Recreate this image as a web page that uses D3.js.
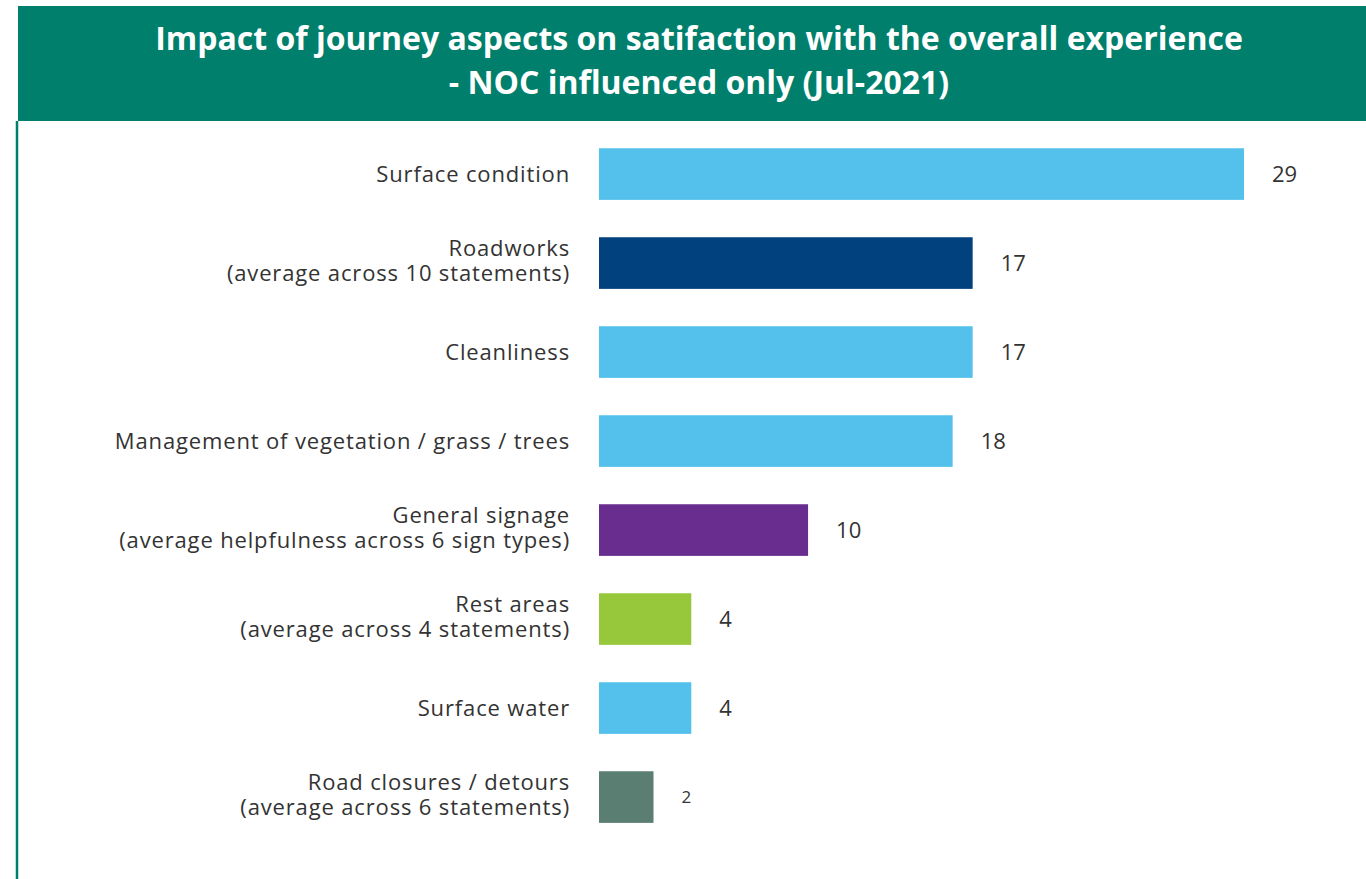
<!DOCTYPE html>
<html>
<head>
<meta charset="utf-8">
<script src="https://cdn.jsdelivr.net/npm/d3@7"></script>
<style>
  body { margin: 0; background: #fff; }
  .cat { font-family: "Open Sans", sans-serif; font-size: 22px; letter-spacing: 0.85px; fill: #333; }
  .val { font-family: "Open Sans", sans-serif; font-size: 22px; fill: #333; }
  .title { font-family: "Open Sans", sans-serif; font-weight: bold; font-size: 32px; fill: #fff; }
</style>
</head>
<body>
<script>
// Data
const categories = [
  ["Surface condition"],
  ["Roadworks", "(average across 10 statements)"],
  ["Cleanliness"],
  ["Management of vegetation / grass / trees"],
  ["General signage", "(average helpfulness across 6 sign types)"],
  ["Rest areas", "(average across 4 statements)"],
  ["Surface water"],
  ["Road closures / detours", "(average across 6 statements)"]
];
// bar lengths as drawn (not quite proportional to the printed labels)
const barValues = [29, 16.8, 16.8, 15.9, 9.4, 4.15, 4.15, 2.45];
const valueLabels = ["29", "17", "17", "18", "10", "4", "4", "2"];
const barColors = ["#54c1ec", "#01417d", "#54c1ec", "#54c1ec", "#692c8f", "#97c83c", "#54c1ec", "#5a7e72"];
const titleLines = [
  "Impact of journey aspects on satifaction with the overall experience",
  "- NOC influenced only (Jul-2021)"
];

const W = 1366, H = 879;
const teal = "#00806c";

const svg = d3.select(document.body).append("svg")
  .attr("width", W)
  .attr("height", H);

// header band + left rule
svg.append("rect")
  .attr("x", 18).attr("y", 6)
  .attr("width", W - 18).attr("height", 115)
  .attr("fill", teal);
svg.append("line")
  .attr("x1", 17).attr("x2", 17)
  .attr("y1", 121).attr("y2", H)
  .attr("stroke", teal).attr("stroke-width", 2.5);

const title = svg.append("text")
  .attr("class", "title")
  .attr("text-anchor", "middle");
title.selectAll("tspan")
  .data(titleLines)
  .enter().append("tspan")
  .attr("x", 699)
  .attr("y", (d, i) => 50 + i * 44)
  .text(d => d);

const x = d3.scaleLinear()
  .domain([0, 29])
  .range([599, 1244]);

const step = 89;
const y = d3.scaleBand()
  .domain(d3.range(categories.length))
  .range([126, 126 + step * (categories.length - 0.42 + 0.5)])
  .paddingInner(0.42)
  .paddingOuter(0.25);

const rows = svg.selectAll(".row")
  .data(categories)
  .enter().append("g")
  .attr("class", "row");

rows.append("rect")
  .attr("x", x(0))
  .attr("y", (d, i) => y(i))
  .attr("width", (d, i) => x(barValues[i]) - x(0))
  .attr("height", y.bandwidth())
  .attr("fill", (d, i) => barColors[i]);

rows.append("text")
  .attr("class", "val")
  .attr("x", (d, i) => x(barValues[i]) + 28)
  .attr("y", (d, i) => y(i) + y.bandwidth() / 2)
  .attr("dy", "0.35em")
  .style("font-size", (d, i) => i === categories.length - 1 ? "17px" : null)
  .text((d, i) => valueLabels[i]);

// wrapped labels sit a touch above the bar centre
rows.append("text")
  .attr("class", "cat")
  .attr("text-anchor", "end")
  .each(function(lines, i) {
    const cy = y(i) + y.bandwidth() / 2;
    const off = (lines.length - 1) * 14.5;
    d3.select(this).selectAll("tspan")
      .data(lines)
      .enter().append("tspan")
      .attr("x", 570)
      .attr("y", (d, j) => cy - off + j * 25)
      .attr("dy", "0.35em")
      .text(d => d);
  });
</script>
</body>
</html>
